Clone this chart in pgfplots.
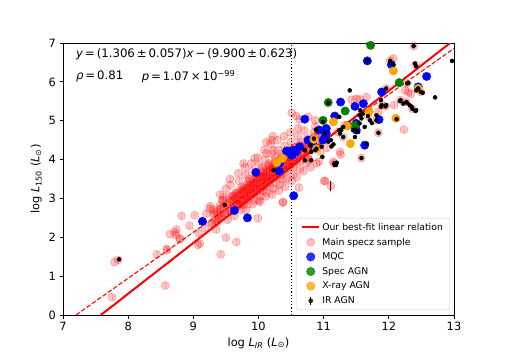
\documentclass[border=0pt]{standalone}
\usepackage{fontspec}
\setmainfont{DejaVu Sans}
\usepackage{pgfplots}
\usepackage{pgfplotstable}
\pgfplotsset{compat=1.18}
\definecolor{mplgreen}{RGB}{0,128,0}
\definecolor{mplorange}{RGB}{255,165,0}

% main specz sample (pink)
\pgfplotstableread{
x y
7.75 0.46
7.79 1.36
7.85 1.42
8.57 0.76
8.44 1.56
8.60 1.67
8.59 1.70
8.64 2.08
8.74 2.20
8.72 2.13
8.73 2.06
8.80 1.95
8.79 1.97
8.82 2.55
8.94 2.30
9.02 2.57
9.07 1.80
9.08 2.10
9.10 1.84
9.18 2.23
9.20 2.61
9.25 2.74
9.31 2.70
9.41 2.60
9.41 2.83
9.46 3.04
9.42 1.56
9.50 1.99
9.66 1.88
9.77 2.83
9.99 2.49
10.02 2.91
10.38 2.91
10.37 2.89
10.62 3.28
9.94 4.03
9.77 3.90
10.12 4.16
10.23 4.24
10.20 4.50
9.28 2.35
9.32 2.62
9.26 2.80
9.35 2.20
9.38 2.50
9.42 2.75
9.44 2.95
9.37 2.40
9.41 3.10
9.48 2.60
9.52 2.85
9.55 3.05
9.46 2.95
9.53 2.45
9.50 3.25
9.58 2.70
9.62 2.95
9.65 3.15
9.57 3.35
9.63 2.55
9.60 3.05
9.66 2.85
9.56 3.50
9.68 2.85
9.72 3.10
9.75 3.30
9.67 3.00
9.73 2.70
9.70 3.45
9.76 3.20
9.69 3.65
9.74 2.95
9.78 3.00
9.82 3.25
9.85 3.45
9.77 3.15
9.83 2.85
9.80 3.60
9.86 3.30
9.79 3.80
9.84 3.05
9.81 2.70
9.88 3.10
9.92 3.35
9.95 3.55
9.87 3.25
9.93 2.95
9.90 3.70
9.96 3.40
9.89 3.90
9.94 3.15
9.91 2.85
9.86 3.50
9.98 3.25
10.02 3.50
10.05 3.70
9.97 3.40
10.03 3.05
10.00 3.85
10.06 3.55
9.99 4.05
10.04 3.30
10.01 2.95
9.96 3.65
10.07 3.20
10.08 3.40
10.12 3.60
10.15 3.85
10.07 3.55
10.13 3.15
10.10 4.00
10.16 3.70
10.09 4.25
10.14 3.45
10.11 3.05
10.06 3.80
10.17 3.30
10.12 4.45
10.18 3.50
10.22 3.75
10.25 3.95
10.17 3.65
10.23 3.25
10.20 4.15
10.26 3.85
10.19 4.40
10.24 3.55
10.21 3.10
10.16 3.90
10.27 3.40
10.22 4.60
10.28 3.65
10.32 3.85
10.35 4.05
10.27 3.80
10.33 3.35
10.30 4.25
10.36 3.95
10.29 4.50
10.34 3.60
10.31 3.20
10.26 4.05
10.37 3.50
10.38 3.75
10.42 4.00
10.45 4.20
10.37 3.95
10.43 3.50
10.40 4.35
10.46 4.05
10.39 4.60
10.44 3.70
10.41 3.30
10.36 4.15
10.47 3.85
10.48 3.90
10.52 4.10
10.55 4.30
10.47 4.05
10.53 3.60
10.50 4.45
10.56 4.20
10.49 4.70
10.54 3.80
10.51 3.45
10.46 4.25
10.58 4.00
10.62 4.25
10.65 4.45
10.57 4.15
10.63 3.75
10.60 4.60
10.66 4.30
10.59 3.55
10.64 3.95
10.61 4.80
10.68 4.15
10.72 4.35
10.75 4.55
10.67 4.30
10.73 3.90
10.70 4.75
10.76 4.05
10.69 3.70
10.78 4.25
10.82 4.50
10.85 4.70
10.77 4.00
10.83 4.35
10.80 3.80
10.88 4.40
10.92 4.65
10.95 4.20
10.87 4.85
10.93 3.95
10.98 4.55
11.02 4.80
11.05 4.30
11.01 3.45
10.51 5.20
10.58 5.12
10.63 5.03
10.76 5.10
10.87 5.01
11.43 5.54
11.50 5.57
11.66 5.61
11.32 4.88
11.22 4.71
11.25 4.20
11.15 3.94
11.26 4.13
11.02 3.45
11.56 5.55
11.84 5.23
12.07 6.60
12.38 6.92
12.25 5.78
12.30 5.73
12.34 5.69
12.23 4.77
12.08 5.40
10.74 4.07
10.89 3.90
12.02 6.54
12.41 6.44
11.96 5.83
12.28 5.96
12.49 5.74
12.18 5.53
12.27 5.48
12.36 5.31
11.89 5.40
11.95 5.37
11.68 5.12
11.81 5.01
11.58 4.04
11.16 3.90
11.11 3.32
11.30 4.58
11.84 4.69
9.29 2.37
9.31 2.59
9.34 2.43
9.36 2.65
9.39 2.50
9.41 2.72
9.44 2.56
9.46 2.78
9.49 2.63
9.51 2.85
9.54 2.69
9.56 2.91
9.58 2.66
9.61 2.81
9.59 2.96
9.62 3.08
9.63 2.72
9.66 2.87
9.64 3.02
9.67 3.14
9.68 2.79
9.71 2.94
9.69 3.09
9.72 3.21
9.73 2.85
9.76 3.00
9.74 3.15
9.77 3.27
9.78 2.92
9.81 3.07
9.79 3.22
9.82 3.34
9.83 2.98
9.86 3.13
9.84 3.28
9.87 3.40
9.88 3.05
9.91 3.20
9.89 3.35
9.92 3.47
9.93 3.11
9.96 3.26
9.94 3.41
9.97 3.53
9.98 3.18
10.01 3.33
9.99 3.48
10.02 3.60
10.03 3.25
10.06 3.40
10.04 3.55
10.07 3.67
10.08 3.31
10.11 3.46
10.09 3.61
10.12 3.73
10.13 3.38
10.16 3.53
10.14 3.68
10.17 3.80
10.18 3.44
10.21 3.59
10.19 3.74
10.22 3.86
10.23 3.51
10.26 3.66
10.24 3.81
10.27 3.93
10.28 3.57
10.31 3.72
10.29 3.87
10.32 3.99
10.33 3.64
10.36 3.79
10.34 3.94
10.37 4.06
10.38 3.70
10.41 3.85
10.39 4.00
10.42 4.12
10.43 3.77
10.46 3.92
10.44 4.07
10.47 4.19
10.48 3.83
10.51 3.98
10.49 4.13
10.52 4.25
10.53 3.90
10.56 4.05
10.54 4.20
10.57 4.32
10.58 3.96
10.61 4.11
10.59 4.26
10.62 4.38
10.64 4.13
10.66 4.33
10.69 4.19
10.71 4.39
10.74 4.26
10.76 4.46
10.79 4.32
10.81 4.52
10.84 4.39
10.86 4.59
10.89 4.45
10.91 4.65
}\speczdata

% MQC (blue)
\pgfplotstableread{
x y
9.14 2.41
9.63 2.69
9.83 2.50
10.54 3.07
9.96 3.67
10.32 3.70
10.43 4.22
10.51 4.11
10.58 4.20
10.48 4.20
10.33 3.91
11.67 6.54
12.04 6.44
12.58 6.14
12.45 5.87
11.89 5.74
11.26 5.48
11.61 5.44
11.48 5.37
10.71 5.04
11.17 5.12
11.85 5.03
10.93 4.76
11.04 4.67
11.04 4.80
11.02 4.58
11.37 4.88
11.50 4.76
11.50 4.93
10.99 4.50
10.84 4.37
10.76 4.50
10.63 4.33
10.53 4.24
11.63 4.37
}\mqcdata

% spectroscopic AGN (green)
\pgfplotstableread{
x y
11.72 6.94
12.16 5.98
11.07 5.47
11.33 5.25
10.99 5.01
11.48 4.88
}\specdata

% X-ray AGN (orange)
\pgfplotstableread{
x y
12.07 6.28
12.45 5.83
11.15 4.97
11.36 4.87
11.70 5.24
12.11 5.06
10.85 4.52
11.41 4.41
10.89 4.28
10.37 4.03
10.28 3.92
}\xraydata

% IR AGN (black)
\pgfplotstableread{
x y
7.86 1.43
9.48 2.83
10.23 3.73
12.38 6.92
12.97 6.54
12.02 6.54
12.06 6.45
12.40 6.47
12.42 6.40
11.67 6.54
12.28 5.96
12.42 5.78
12.52 5.72
12.49 5.74
12.45 5.83
12.71 5.60
11.40 5.78
11.07 5.46
11.88 5.53
12.17 5.51
12.27 5.48
12.35 5.36
12.42 5.27
11.96 5.40
11.88 5.36
11.56 5.27
11.68 5.12
11.81 5.01
11.58 5.06
11.55 4.93
11.63 4.84
11.49 4.77
11.84 4.69
11.58 4.04
11.16 3.90
11.19 3.86
11.27 4.76
11.30 4.58
11.07 4.46
10.97 4.33
10.81 4.20
10.71 3.98
10.98 4.07
11.15 4.39
11.96 5.83
12.30 5.97
12.18 5.53
12.22 5.44
12.28 5.46
12.32 5.40
12.36 5.31
12.41 5.25
11.89 5.40
11.95 5.37
12.12 5.04
11.24 5.10
10.99 4.97
11.30 4.84
11.24 4.76
11.45 4.76
11.53 4.71
11.55 5.14
11.60 5.18
11.71 5.01
11.74 4.94
11.81 5.14
11.66 4.41
11.48 4.58
11.11 4.50
11.25 4.67
11.02 4.67
10.88 4.77
10.85 4.54
10.79 4.37
10.89 4.28
10.87 4.24
10.71 4.24
11.12 4.34
11.20 3.92
11.17 3.86
10.81 3.98
}\irdata

\begin{document}
\begin{tikzpicture}
\useasboundingbox (0,0) rectangle (505pt,360pt);
\begin{axis}[
  at={(63pt,45pt)}, anchor=south west,
  scale only axis, width=391pt, height=272pt,
  xmin=7, xmax=13, ymin=0, ymax=7,
  xtick={7,8,...,13}, ytick={0,1,...,7},
  tick align=outside, tick pos=left,
  major tick length=3.5pt,
  axis line style={line width=0.8pt},
  every tick/.style={black, line width=0.8pt},
  /pgf/number format/assume math mode=true,
  tick label style={font=\fontsize{11.4}{13}\selectfont},
  label style={font=\fontsize{11.4}{13}\selectfont},
  xlabel={log \textit{L}\textsubscript{\textit{IR}} (\textit{L}\textsubscript{⊙})},
  ylabel={log \textit{L}\textsubscript{150} (\textit{L}\textsubscript{⊙})},
  legend cell align=left,
  legend style={at={(0.99,0.018)}, anchor=south east, draw=black!20,
    rounded corners=2pt, fill=white, fill opacity=0.8, text opacity=1,
    font=\fontsize{9.3}{11}\selectfont, row sep=2.2pt,
    inner xsep=5pt, inner ysep=3pt},
]
\addlegendimage{red, line width=2pt}
\addlegendentry{Our best-fit linear relation}
\addlegendimage{only marks, mark=*, mark size=4pt,
  mark options={fill=red, fill opacity=0.25, draw=red, draw opacity=0.35}}
\addlegendentry{Main specz sample}
\addlegendimage{only marks, mark=*, mark size=4.2pt, mark options={draw=blue, fill=blue}}
\addlegendentry{MQC}
\addlegendimage{only marks, mark=*, mark size=4.2pt, mark options={draw=mplgreen, fill=mplgreen}}
\addlegendentry{Spec AGN}
\addlegendimage{only marks, mark=*, mark size=4.2pt, mark options={draw=mplorange, fill=mplorange}}
\addlegendentry{X-ray AGN}
\addlegendimage{legend image code/.code={
  \draw[black, line width=0.9pt] (0.3cm,-4pt) -- (0.3cm,4pt);
  \fill[black] (0.3cm,0pt) circle (2pt);}}
\addlegendentry{IR AGN}

% pink sample first, lines over it
\addplot[forget plot, only marks, mark=*, mark size=4pt,
  mark options={fill=red, fill opacity=0.22, draw=red, draw opacity=0.3, line width=0.6pt},
  error bars/.cd, y dir=both, y fixed=0.08, error mark=none,
  error bar style={red, draw opacity=0.18, line width=0.5pt}]
  table {\speczdata};

\addplot[forget plot, red, line width=2pt] coordinates {(7.5804,0) (13,7.078)};
\addplot[forget plot, red, line width=1.1pt, dash pattern=on 4.5pt off 2pt]
  coordinates {(7.20,0) (13,6.86)};
\addplot[forget plot, black, line width=1.1pt, dash pattern=on 1.2pt off 2pt]
  coordinates {(10.5,0) (10.5,7)};

\addplot[forget plot, only marks, mark=*, mark size=4.2pt,
  mark options={draw=blue, fill=blue}] table {\mqcdata};
\addplot[forget plot, only marks, mark=*, mark size=4.2pt,
  mark options={draw=mplgreen, fill=mplgreen}] table {\specdata};
\addplot[forget plot, only marks, mark=*, mark size=4.2pt,
  mark options={draw=mplorange, fill=mplorange}] table {\xraydata};
\addplot[forget plot, only marks, mark=*, mark size=2pt, black,
  error bars/.cd, y dir=both, y fixed=0.05, error mark=none,
  error bar style={black, line width=0.8pt}]
  table {\irdata};
\addplot[forget plot, black, line width=0.8pt] coordinates {(11.11,3.20) (11.11,3.44)};

\node[anchor=west, inner sep=0pt, font=\fontsize{11.7}{13}\selectfont]
  at (rel axis cs:0.033,0.958)
  {\textit{y}\,=\,(1.306\,±\,0.057)\textit{x}\,−\,(9.900\,±\,0.623)};
\node[anchor=west, inner sep=0pt, font=\fontsize{11.7}{13}\selectfont]
  at (rel axis cs:0.033,0.876) {\textit{ρ}\,=\,0.81};
\node[anchor=west, inner sep=0pt, font=\fontsize{11.7}{13}\selectfont]
  at (rel axis cs:0.201,0.876) {\textit{p}\,=\,1.07\,×\,10\textsuperscript{−99}};
\end{axis}
\end{tikzpicture}
\end{document}
